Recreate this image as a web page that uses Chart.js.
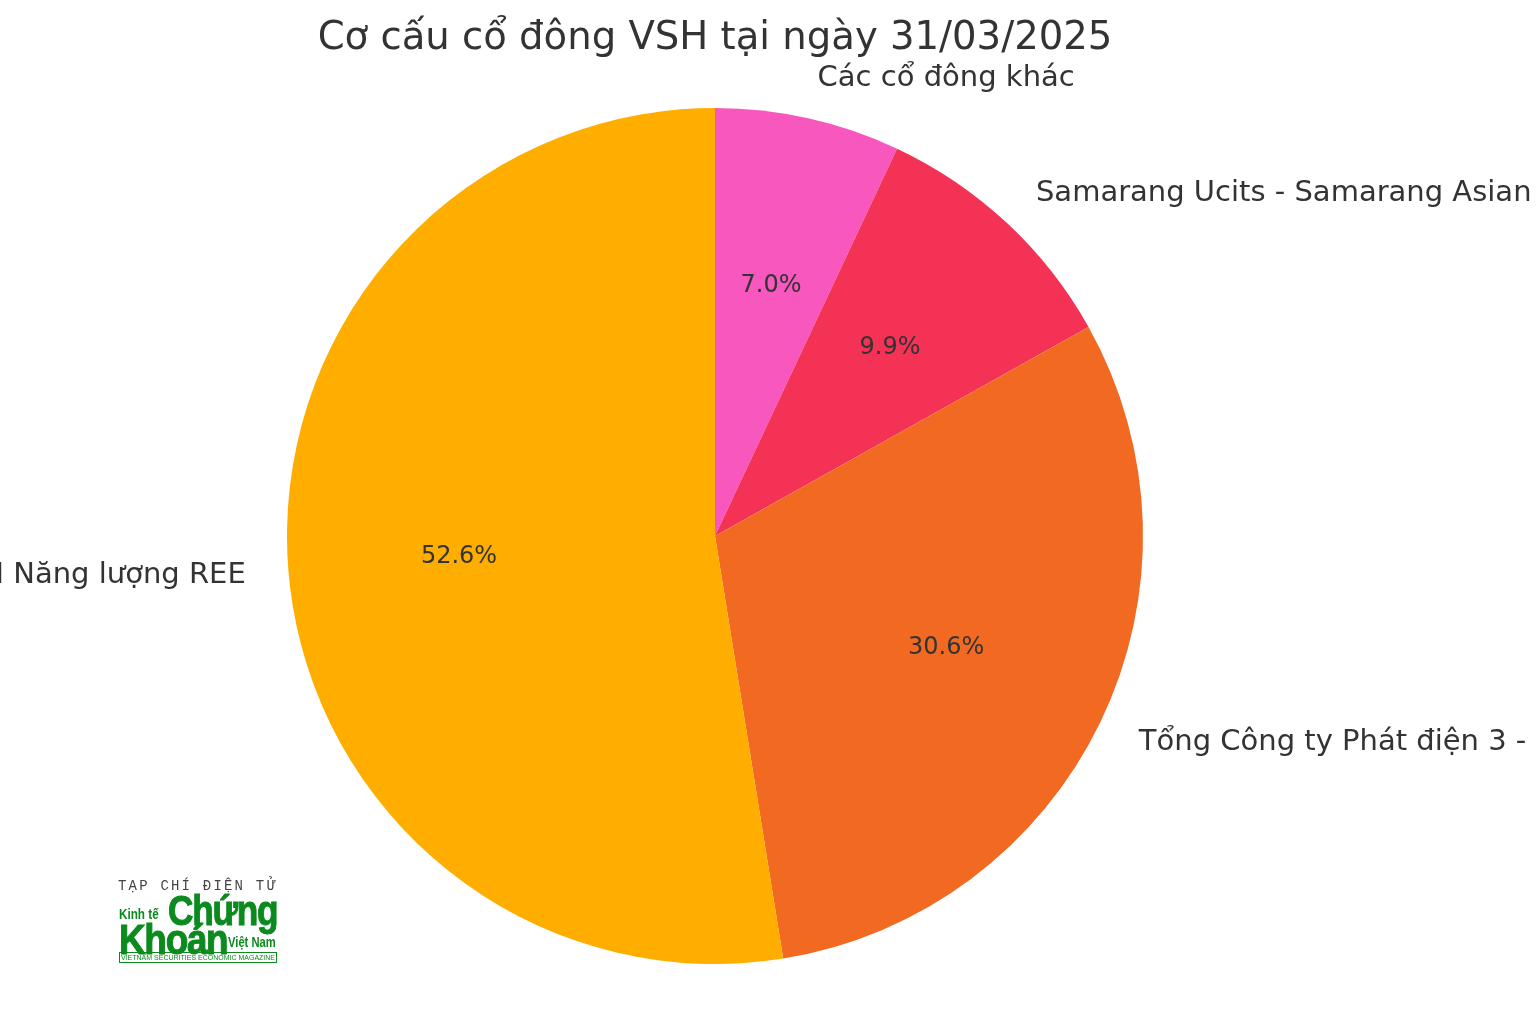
<!DOCTYPE html>
<html>
<head>
<meta charset="utf-8">
<script src="https://cdn.jsdelivr.net/npm/chart.js@4.4.1/dist/chart.umd.min.js"></script>
<style>
  html, body { margin: 0; padding: 0; background: #fff; }
  #wrap { position: relative; width: 1536px; height: 1024px; overflow: hidden; }
  #logo { position: absolute; left: 118px; top: 876px; width: 160px; height: 90px; color: #0b8a1e; font-family: "Liberation Sans", sans-serif; }
  #logo div { position: absolute; white-space: nowrap; line-height: 1; }
  #logo .top { left: 0; top: 3px; font-family: "Liberation Mono", "DejaVu Sans Mono", monospace; font-size: 14px; color: #444; letter-spacing: 2.2px; }
  #logo .kt { left: 1px; top: 30px; font-size: 15px; font-weight: bold; transform: scaleX(0.78); transform-origin: left; }
  #logo .ch { left: 50px; top: 14px; font-size: 42px; font-weight: bold; letter-spacing: -1.5px; transform: scaleX(0.84); transform-origin: left; -webkit-text-stroke: 1px #0b8a1e; }
  #logo .kh { left: 1px; top: 43px; font-size: 42px; font-weight: bold; letter-spacing: -1.5px; transform: scaleX(0.88); transform-origin: left; -webkit-text-stroke: 1px #0b8a1e; }
  #logo .vn { left: 110px; top: 59px; font-size: 14px; font-weight: bold; transform: scaleX(0.8); transform-origin: left; }
  #logo .bar { left: 1px; top: 76px; width: 156px; height: 9px; border: 1px solid #0b8a1e; font-size: 7px; line-height: 9px; text-align: center; overflow: hidden; }
</style>
</head>
<body>
<div id="wrap">
  <canvas id="c" width="1536" height="1024"></canvas>
  <div id="logo">
    <div class="top">TẠP CHÍ ĐIỆN TỬ</div>
    <div class="kt">Kinh tế</div>
    <div class="ch">Chứng</div>
    <div class="kh">Khoán</div>
    <div class="vn">Việt Nam</div>
    <div class="bar">VIETNAM SECURITIES ECONOMIC MAGAZINE</div>
  </div>
</div>
<script>
// Data (clockwise from 12 o'clock)
const chartTitle = "Cơ cấu cổ đông VSH tại ngày 31/03/2025";
const categories = [
  "Các cổ đông khác",
  "Samarang Ucits - Samarang Asian Prosperity",
  "Tổng Công ty Phát điện 3 - CTCP",
  "Công ty TNHH Năng lượng REE"
];
const shares = [7.0, 9.9, 30.6, 52.6];
const colors = ["#F857BE", "#F43256", "#F26A21", "#FFAE00"];

const textColor = "#333333";
const fontFam = "'DejaVu Sans', sans-serif";

const labelPlugin = {
  id: 'pieLabels',
  afterDraw(chart) {
    const ctx = chart.ctx;
    const meta = chart.getDatasetMeta(0);
    ctx.save();
    ctx.fillStyle = textColor;
    meta.data.forEach((arc, i) => {
      const p = arc.getProps(['x','y','startAngle','endAngle','outerRadius'], true);
      const mid = (p.startAngle + p.endAngle) / 2;
      const c = Math.cos(mid), s = Math.sin(mid);
      ctx.font = "29px " + fontFam;
      ctx.textBaseline = 'middle';
      ctx.textAlign = c >= 0 ? 'left' : 'right';
      ctx.fillText(categories[i], p.x + c * p.outerRadius * 1.1, p.y + s * p.outerRadius * 1.1 + 2);
      ctx.font = "24px " + fontFam;
      ctx.textAlign = 'center';
      ctx.fillText(shares[i].toFixed(1) + "%", p.x + c * p.outerRadius * 0.6, p.y + s * p.outerRadius * 0.6);
    });
    ctx.font = "38.6px " + fontFam;
    ctx.textAlign = 'center';
    ctx.textBaseline = 'middle';
    ctx.fillText(chartTitle, 715, 39);
    ctx.restore();
  }
};

new Chart(document.getElementById('c'), {
  type: 'pie',
  data: {
    labels: categories,
    datasets: [{
      data: shares,
      backgroundColor: colors,
      borderWidth: 0
    }]
  },
  options: {
    responsive: false,
    animation: false,
    layout: { padding: { top: 108, bottom: 60, left: 287, right: 393 } },
    plugins: {
      legend: { display: false },
      title: { display: false },
      tooltip: { enabled: false }
    }
  },
  plugins: [labelPlugin]
});
</script>
</body>
</html>
